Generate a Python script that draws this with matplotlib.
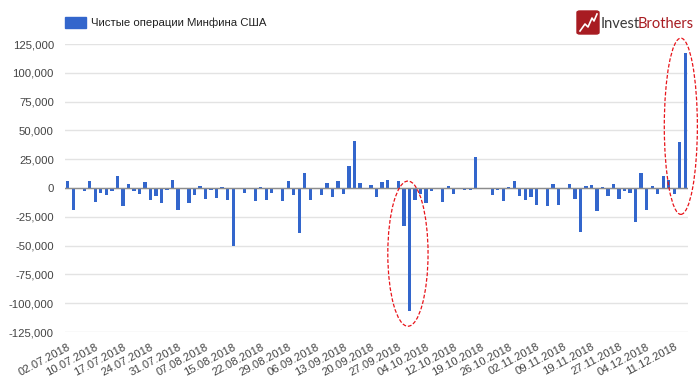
import matplotlib
matplotlib.use('Agg')
import matplotlib.pyplot as plt
import numpy as np
from matplotlib.patches import Ellipse, Rectangle, FancyBboxPatch
from matplotlib.ticker import FuncFormatter
from matplotlib.transforms import ScaledTranslation

plt.rcParams['font.family'] = ['Liberation Sans', 'DejaVu Sans']

SERIES_NAME = 'Чистые операции Минфина США'

# net Treasury operations, one value per business day, 02.07.2018 - 14.12.2018
values = [
    6500, -18700, -1000, -2800, 6500, -12200, -4000, -6500, -2800, 10800,
    -15600, 3400, -2300, -4800, 4800, -10000, -7000, -12800, -1700, 7000,
    -19300, -500, -13300, -6500, 1700, -9700, -2000, -8800, 1100, -10000,
    -50000, -700, -4500, -300, -11400, 1100, -10000, -4500, 300, -11400,
    6000, -6200, -39000, 13300, -10800, -900, -6000, 4500, -8200, 6000,
    -4800, 18700, 41000, 4000, -1100, 2600, -8200, 4800, 7000, -900,
    5700, -33000, -107000, -10200, -5400, -13300, -2800, -500, -12500, 2000,
    -4800, 0, -1400, -1400, 27300, -600, -600, -6000, -2000, -11600,
    900, 6000, -7100, -10500, -8000, -14500, -500, -15900, 3400, -14500,
    -300, 3400, -9400, -37800, 1400, 2300, -19600, 500, -7100, 3400,
    -9700, -2300, -4300, -29300, 13000, -19000, 1700, -4800, 10200, 7000,
    -5400, 40000, 117000,
]

# every 5th business day is labelled
date_labels = [
    '02.07.2018', '10.07.2018', '17.07.2018', '24.07.2018', '31.07.2018',
    '07.08.2018', '15.08.2018', '22.08.2018', '29.08.2018', '06.09.2018',
    '13.09.2018', '20.09.2018', '27.09.2018', '04.10.2018', '12.10.2018',
    '19.10.2018', '26.10.2018', '02.11.2018', '09.11.2018', '19.11.2018',
    '27.11.2018', '04.12.2018', '11.12.2018',
]
label_step = 5

# highlighted spots: (center index, center value, width in bars, height)
highlights = [
    (61.7, -57000, 7.3, 126000),
    (111.2, 53600, 6.0, 153000),
]

BLUE = '#3366cc'
W, H = 699, 379

fig = plt.figure(figsize=(W / 100, H / 100), dpi=100)
ax = fig.add_axes([65 / W, 47 / H, 623 / W, 288 / H])

x = np.arange(len(values))
ax.bar(x, values, width=0.6, color=BLUE, zorder=2)
ax.axhline(0, color='#8c8c8c', lw=1, zorder=3)

ax.set_xlim(-0.5, len(values) - 0.5)
ax.set_ylim(-125000, 125000)
ax.set_yticks(np.arange(-125000, 125001, 25000))
ax.yaxis.set_major_formatter(FuncFormatter(lambda v, p: f'{v:,.0f}'))
ax.grid(axis='y', color='#e3e3e3', lw=1, zorder=0)
ax.set_axisbelow(True)
for s in ax.spines.values():
    s.set_visible(False)

ax.set_xticks(x[::label_step])
ax.set_xticklabels(date_labels, rotation=28, ha='right', rotation_mode='anchor',
                   fontsize=8.2, color='#444444')
shift = ScaledTranslation(4 / 100, 0, fig.dpi_scale_trans)
for lab in ax.get_xticklabels():
    lab.set_transform(lab.get_transform() + shift)
ax.tick_params(axis='x', length=0, pad=7)
ax.tick_params(axis='y', length=0, pad=8, labelsize=8.2, labelcolor='#444444')

for cx, cy, w, h in highlights:
    ax.add_patch(Ellipse((cx, cy), w, h, fill=False, ec='#e8141a', lw=0.9,
                         ls=(0, (3, 1.5)), clip_on=False, zorder=5))

# legend
fig.add_artist(Rectangle((65 / W, 1 - 28 / H), 21 / W, 11 / H,
                         transform=fig.transFigure, color=BLUE))
fig.text(91 / W, 1 - 22.5 / H, SERIES_NAME, fontsize=8.2, color='#222222', va='center')

# logo
fig.add_artist(FancyBboxPatch((577 / W, 1 - 34 / H), 22 / W, 23 / H,
                              boxstyle='round,pad=0,rounding_size=0.004',
                              transform=fig.transFigure, color='#a81c22'))
zx = np.array([580, 585, 588, 592, 594, 597]) / W
zy = 1 - np.array([31, 24, 27, 18, 21, 14]) / H
fig.add_artist(plt.Line2D(zx, zy, transform=fig.transFigure, color='white', lw=1.2))
t1 = fig.text(601 / W, 1 - 28 / H, 'Invest', fontsize=10.5, color='#3a3a3a',
              family='Lato', va='baseline')
ax.annotate('Brothers', xy=(1, 0), xycoords=t1, xytext=(-2, 0), textcoords='offset points',
            fontsize=10.5, color='#a81c22', family='Lato', va='bottom',
            annotation_clip=False)

fig.savefig('out.png', dpi=100)
